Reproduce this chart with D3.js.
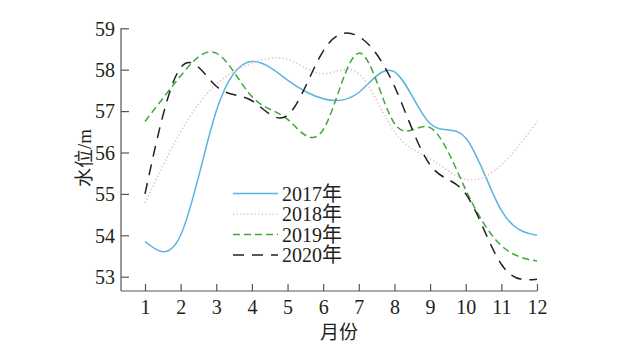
<!DOCTYPE html>
<meta charset="utf-8">
<script src="https://d3js.org/d3.v7.min.js"></script>
<style>
    body { margin: 0; background: #fff; }
    text { font-family: "Liberation Serif", "Times New Roman", "Noto Sans CJK SC", serif; fill: #231f20; }
</style>
<div id="chart"></div>
<script>
    // months and water level (m) per year
    var months = [1, 2, 3, 4, 5, 6, 7, 8, 9, 10, 11, 12];
    var y2017 = [53.85, 54.0, 57.0, 58.2, 57.75, 57.3, 57.45, 57.95, 56.7, 56.35, 54.6, 54.0];
    var y2018 = [54.78, 56.5, 57.65, 58.15, 58.25, 57.9, 57.9, 56.5, 55.85, 55.35, 55.7, 56.75];
    var y2019 = [56.75, 57.85, 58.4, 57.35, 56.8, 56.55, 58.4, 56.7, 56.6, 55.1, 53.75, 53.38];
    var y2020 = [55.0, 58.05, 57.6, 57.25, 56.9, 58.45, 58.8, 57.6, 55.7, 55.0, 53.3, 52.94];
    var yTicks = [53, 54, 55, 56, 57, 58, 59];

    var series = [
        { name: "2017年", values: y2017, color: "#5ab4de", dash: null },
        { name: "2018年", values: y2018, color: "#e9b9c4", dash: "1.2,2.4" },
        { name: "2019年", values: y2019, color: "#3ea83a", dash: "7,4" },
        { name: "2020年", values: y2020, color: "#231f20", dash: "11,8" }
    ];

    var width = 620, height = 344;
    var svg = d3.select("#chart").append("svg")
        .attr("width", width)
        .attr("height", height);

    var x = d3.scaleLinear().domain([1, 12]).range([145, 537]);
    var y = d3.scaleLinear().domain([53, 59]).range([276.7, 28.3]);
    var axisX = 121, axisY = 291;
    var axisColor = "#555";

    // axis lines
    svg.append("line")
        .attr("x1", axisX).attr("x2", x(12))
        .attr("y1", axisY).attr("y2", axisY)
        .attr("stroke", axisColor).attr("stroke-width", 1.2);
    svg.append("line")
        .attr("x1", axisX).attr("x2", axisX)
        .attr("y1", axisY).attr("y2", y(59))
        .attr("stroke", axisColor).attr("stroke-width", 1.2);

    // x ticks
    var gx = svg.append("g")
        .attr("transform", "translate(0," + axisY + ")")
        .call(d3.axisBottom(x).tickValues(months).tickSizeInner(-7).tickSizeOuter(0).tickPadding(0).tickFormat(d3.format("d")));
    gx.select(".domain").remove();
    gx.selectAll(".tick line").attr("stroke", axisColor).attr("stroke-width", 1.2);
    gx.selectAll(".tick text")
        .attr("y", 23)
        .attr("dy", 0)
        .style("font-size", "20px");

    // y ticks
    var gy = svg.append("g")
        .attr("transform", "translate(" + axisX + ",0)")
        .call(d3.axisLeft(y).tickValues(yTicks).tickSizeInner(-8).tickSizeOuter(0).tickPadding(0).tickFormat(d3.format("d")));
    gy.select(".domain").remove();
    gy.selectAll(".tick line").attr("stroke", axisColor).attr("stroke-width", 1.2);
    gy.selectAll(".tick text")
        .attr("x", -6)
        .attr("dy", "0.34em")
        .style("font-size", "20px");

    // axis titles
    svg.append("text")
        .attr("transform", "translate(91,158) rotate(-90)")
        .attr("text-anchor", "middle")
        .style("font-size", "19px")
        .text("水位/m");
    svg.append("text")
        .attr("x", 339).attr("y", 339)
        .attr("text-anchor", "middle")
        .style("font-size", "19px")
        .text("月份");

    // lines
    var line = d3.line()
        .x(function (d, i) { return x(months[i]) })
        .y(function (d) { return y(d) })
        .curve(d3.curveNatural);

    svg.selectAll(".series")
        .data(series)
        .enter()
        .append("path")
        .attr("class", "series")
        .attr("d", d => line(d.values))
        .attr("fill", "none")
        .attr("stroke", d => d.color)
        .attr("stroke-width", d => d.dash === "1.2,2.4" ? 1.6 : 1.5)
        .attr("stroke-dasharray", d => d.dash);

    // legend
    var legend = svg.selectAll(".legend")
        .data(series)
        .enter()
        .append("g")
        .attr("class", "legend")
        .attr("transform", (d, i) => "translate(0," + (193.5 + i * 20.5) + ")");
    legend.append("line")
        .attr("x1", 233).attr("x2", 278)
        .attr("stroke", d => d.color)
        .attr("stroke-width", 1.5)
        .attr("stroke-dasharray", d => d.dash);
    legend.append("text")
        .attr("x", 282)
        .attr("dy", "0.35em")
        .style("font-size", "20px")
        .text(d => d.name);
</script>
